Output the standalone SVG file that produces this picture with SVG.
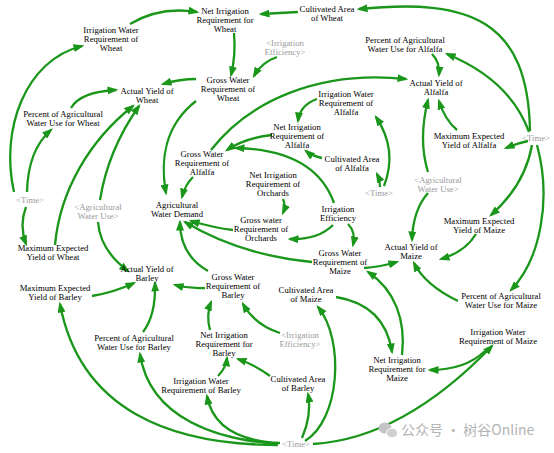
<svg xmlns="http://www.w3.org/2000/svg" width="554" height="453" viewBox="0 0 554 453">
<style>
.t{font-family:"Liberation Serif","Times New Roman",serif;font-size:8.7px;fill:#000;text-anchor:middle}
.g{fill:#9a9a9a}
.c path{fill:none;stroke:#1a961a;stroke-width:2.3;marker-end:url(#ah)}
.wm{font-family:"Noto Sans CJK SC","Noto Sans",sans-serif;font-size:14px;fill:#b4b4b4}
</style>
<defs>
<marker id="ah" viewBox="0 0 11 8" refX="8.5" refY="4" markerWidth="11" markerHeight="8" markerUnits="userSpaceOnUse" orient="auto">
<path d="M0,0 L11,4 L0,8 z" fill="#1a961a"/>
</marker>
</defs>
<rect width="554" height="453" fill="#fff"/>
<g id="connectors" class="c">
<path d="M298,12 Q280,13 261,14"/>
<path d="M530,131 C528,20 470,-2 359,9"/>
<path d="M130,24 Q160,6 197,12"/>
<path d="M14,192 C0,130 25,60 82,46"/>
<path d="M27,192 Q28,150 51,130"/>
<path d="M26,207 Q19,225 26,244"/>
<path d="M71,108 Q80,92 116,90"/>
<path d="M55,245 C60,190 90,140 133,106"/>
<path d="M100,200 Q108,150 139,106"/>
<path d="M98,222 Q100,250 128,271"/>
<path d="M92,296 Q115,292 134,283"/>
<path d="M143,332 Q156,315 155,283"/>
<path d="M205,288 Q190,289 175,285"/>
<path d="M208,271 Q180,255 180,222"/>
<path d="M233,230 Q215,228 191,221"/>
<path d="M312,262 Q240,255 185,222"/>
<path d="M283,199 Q286,206 283,213"/>
<path d="M333,225 Q318,240 290,239"/>
<path d="M348,224 Q356,232 353,245"/>
<path d="M364,268 Q380,267 397,262"/>
<path d="M428,193 Q413,210 412,240"/>
<path d="M476,234 Q465,252 441,259"/>
<path d="M458,301 Q425,285 414,263"/>
<path d="M336,297 Q385,305 392,352"/>
<path d="M402,355 C406,320 395,290 368,272"/>
<path d="M305,441 C340,420 345,340 318,307"/>
<path d="M302,438 Q312,415 308,394"/>
<path d="M280,443 Q215,440 207,396"/>
<path d="M278,444 C220,440 150,420 140,354"/>
<path d="M278,445 C170,445 80,410 60,304"/>
<path d="M313,444 C380,440 440,400 492,346"/>
<path d="M485,351 Q465,370 430,370"/>
<path d="M210,330 Q206,315 211,302"/>
<path d="M280,333 Q255,325 243,304"/>
<path d="M218,376 Q226,368 227,358"/>
<path d="M270,376 Q255,365 238,359"/>
<path d="M234,33 Q236,55 231,75"/>
<path d="M277,57 Q262,62 254,76"/>
<path d="M196,79 Q180,79 163,84"/>
<path d="M196,101 C165,125 160,160 166,193"/>
<path d="M193,177 Q185,185 182,197"/>
<path d="M211,150 C250,100 320,70 406,79"/>
<path d="M317,99 Q300,105 298,121"/>
<path d="M272,135 Q245,138 227,150"/>
<path d="M334,203 Q315,150 236,148"/>
<path d="M322,158 Q312,156 306,151"/>
<path d="M380,187 Q380,180 377,174"/>
<path d="M384,186 Q398,150 376,117"/>
<path d="M428,172 Q418,140 428,100"/>
<path d="M457,130 Q445,120 439,101"/>
<path d="M432,54 Q440,62 439,75"/>
<path d="M528,141 Q518,143 506,148"/>
<path d="M529,132 Q510,80 447,54"/>
<path d="M532,145 Q525,185 491,215"/>
<path d="M537,145 C552,200 540,260 511,290"/>
</g>
<g id="iwr_wheat"><text class="t" x="111" y="33"><tspan x="111">Irrigation Water</tspan><tspan x="111" dy="9.2">Requirement of</tspan><tspan x="111" dy="9.2">Wheat</tspan></text></g>
<g id="net_wheat"><text class="t" x="225" y="14"><tspan x="225">Net Irrigation</tspan><tspan x="225" dy="9.2">Requirement for</tspan><tspan x="225" dy="9.2">Wheat</tspan></text></g>
<g id="cult_wheat"><text class="t" x="327" y="12"><tspan x="327">Cultivated Area</tspan><tspan x="327" dy="9.2">of Wheat</tspan></text></g>
<g id="irreff_top"><text class="t g" x="285" y="46"><tspan x="285">&lt;Irrigation</tspan><tspan x="285" dy="9.2">Efficiency&gt;</tspan></text></g>
<g id="gross_wheat"><text class="t" x="228" y="83"><tspan x="228">Gross Water</tspan><tspan x="228" dy="9.2">Requirement of</tspan><tspan x="228" dy="9.2">Wheat</tspan></text></g>
<g id="pct_alfalfa"><text class="t" x="405" y="43"><tspan x="405">Percent of Agricultural</tspan><tspan x="405" dy="9.2">Water Use for Alfalfa</tspan></text></g>
<g id="act_alfalfa"><text class="t" x="436" y="86"><tspan x="436">Actual Yield of</tspan><tspan x="436" dy="9.2">Alfalfa</tspan></text></g>
<g id="max_alfalfa"><text class="t" x="469" y="139"><tspan x="469">Maximum Expected</tspan><tspan x="469" dy="9.2">Yield of Alfalfa</tspan></text></g>
<g id="time_right"><text class="t g" x="536" y="141">&lt;Time&gt;</text></g>
<g id="act_wheat"><text class="t" x="147" y="94"><tspan x="147">Actual Yield of</tspan><tspan x="147" dy="9.2">Wheat</tspan></text></g>
<g id="pct_wheat"><text class="t" x="63" y="117"><tspan x="63">Percent of Agricultural</tspan><tspan x="63" dy="9.2">Water Use for Wheat</tspan></text></g>
<g id="iwr_alfalfa"><text class="t" x="346" y="97"><tspan x="346">Irrigation Water</tspan><tspan x="346" dy="9.2">Requirement of</tspan><tspan x="346" dy="9.2">Alfalfa</tspan></text></g>
<g id="net_alfalfa"><text class="t" x="297" y="130"><tspan x="297">Net Irrigation</tspan><tspan x="297" dy="9.2">Requirement of</tspan><tspan x="297" dy="9.2">Alfalfa</tspan></text></g>
<g id="gross_alfalfa"><text class="t" x="202" y="157"><tspan x="202">Gross Water</tspan><tspan x="202" dy="9.2">Requirement of</tspan><tspan x="202" dy="9.2">Alfalfa</tspan></text></g>
<g id="cult_alfalfa"><text class="t" x="352" y="162"><tspan x="352">Cultivated Area</tspan><tspan x="352" dy="9.2">of Alfalfa</tspan></text></g>
<g id="time_mid"><text class="t g" x="379" y="196">&lt;Time&gt;</text></g>
<g id="awu_right"><text class="t g" x="438" y="183"><tspan x="438">&lt;Agricultural</tspan><tspan x="438" dy="9.2">Water Use&gt;</tspan></text></g>
<g id="net_orchards"><text class="t" x="273" y="178"><tspan x="273">Net Irrigation</tspan><tspan x="273" dy="9.2">Requirement of</tspan><tspan x="273" dy="9.2">Orchards</tspan></text></g>
<g id="irreff"><text class="t" x="338" y="212"><tspan x="338">Irrigation</tspan><tspan x="338" dy="9.2">Efficiency</tspan></text></g>
<g id="awd"><text class="t" x="177" y="208"><tspan x="177">Agricultural</tspan><tspan x="177" dy="9.2">Water Demand</tspan></text></g>
<g id="gross_orchards"><text class="t" x="261" y="223"><tspan x="261">Gross water</tspan><tspan x="261" dy="9.2">Requirement of</tspan><tspan x="261" dy="9.2">Orchards</tspan></text></g>
<g id="awu_left"><text class="t g" x="98" y="210"><tspan x="98">&lt;Agricultural</tspan><tspan x="98" dy="9.2">Water Use&gt;</tspan></text></g>
<g id="time_left"><text class="t g" x="30" y="203">&lt;Time&gt;</text></g>
<g id="max_wheat"><text class="t" x="53" y="251"><tspan x="53">Maximum Expected</tspan><tspan x="53" dy="9.2">Yield of Wheat</tspan></text></g>
<g id="gross_maize"><text class="t" x="340" y="256"><tspan x="340">Gross Water</tspan><tspan x="340" dy="9.2">Requirement of</tspan><tspan x="340" dy="9.2">Maize</tspan></text></g>
<g id="max_maize"><text class="t" x="479" y="224"><tspan x="479">Maximum Expected</tspan><tspan x="479" dy="9.2">Yield of Maize</tspan></text></g>
<g id="act_maize"><text class="t" x="411" y="250"><tspan x="411">Actual Yield of</tspan><tspan x="411" dy="9.2">Maize</tspan></text></g>
<g id="act_barley"><text class="t" x="147" y="272"><tspan x="147">Actual Yield of</tspan><tspan x="147" dy="9.2">Barley</tspan></text></g>
<g id="max_barley"><text class="t" x="55" y="291"><tspan x="55">Maximum Expected</tspan><tspan x="55" dy="9.2">Yield of Barley</tspan></text></g>
<g id="gross_barley"><text class="t" x="233" y="280"><tspan x="233">Gross Water</tspan><tspan x="233" dy="9.2">Requirement of</tspan><tspan x="233" dy="9.2">Barley</tspan></text></g>
<g id="cult_maize"><text class="t" x="306" y="293"><tspan x="306">Cultivated Area</tspan><tspan x="306" dy="9.2">of Maize</tspan></text></g>
<g id="pct_maize"><text class="t" x="501" y="299"><tspan x="501">Percent of Agricultural</tspan><tspan x="501" dy="9.2">Water Use for Maize</tspan></text></g>
<g id="net_barley"><text class="t" x="224" y="338"><tspan x="224">Net Irrigation</tspan><tspan x="224" dy="9.2">Requirement for</tspan><tspan x="224" dy="9.2">Barley</tspan></text></g>
<g id="irreff_bottom"><text class="t g" x="300" y="338"><tspan x="300">&lt;Irrigation</tspan><tspan x="300" dy="9.2">Efficiency&gt;</tspan></text></g>
<g id="pct_barley"><text class="t" x="134" y="341"><tspan x="134">Percent of Agricultural</tspan><tspan x="134" dy="9.2">Water Use for Barley</tspan></text></g>
<g id="iwr_maize"><text class="t" x="498" y="335"><tspan x="498">Irrigation Water</tspan><tspan x="498" dy="9.2">Requirement of Maize</tspan></text></g>
<g id="net_maize"><text class="t" x="397" y="363"><tspan x="397">Net Irrigation</tspan><tspan x="397" dy="9.2">Requirement for</tspan><tspan x="397" dy="9.2">Maize</tspan></text></g>
<g id="iwr_barley"><text class="t" x="201" y="384"><tspan x="201">Irrigation Water</tspan><tspan x="201" dy="9.2">Requirement of Barley</tspan></text></g>
<g id="cult_barley"><text class="t" x="298" y="382"><tspan x="298">Cultivated Area</tspan><tspan x="298" dy="9.2">of Barley</tspan></text></g>
<g id="time_bottom"><text class="t g" x="296" y="447">&lt;Time&gt;</text></g>
<g id="watermark">
<ellipse cx="385" cy="428" rx="6.5" ry="5.5" fill="#c4c4c4"/>
<ellipse cx="392" cy="433" rx="5.5" ry="4.8" fill="#d0d0d0" stroke="#fff" stroke-width="1"/>
<text class="wm" x="401" y="435">公众号 · 树谷Online</text>
</g>
</svg>
